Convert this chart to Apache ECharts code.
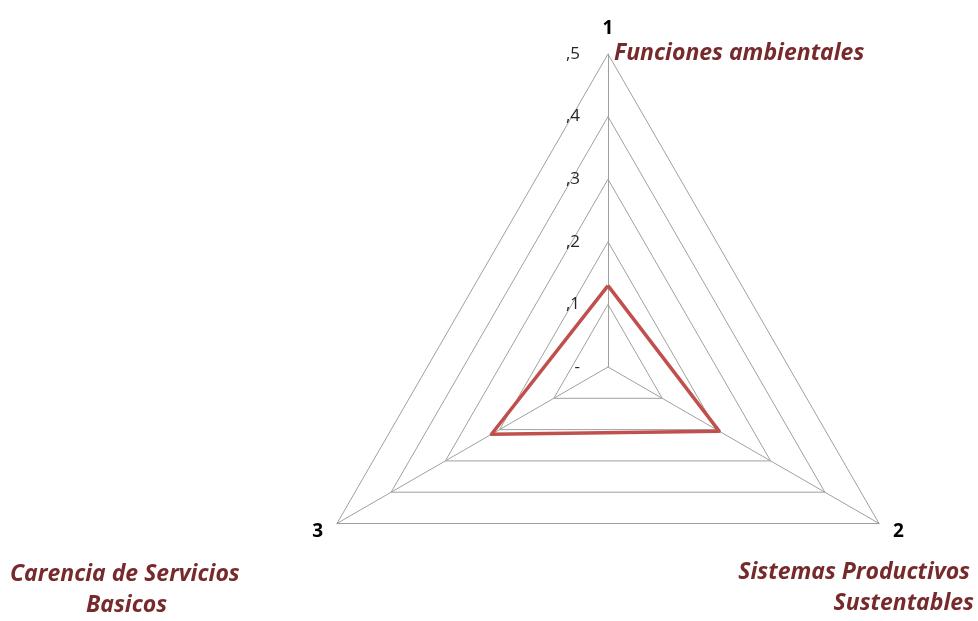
<!DOCTYPE html>
<html lang="es">
<head>
  <meta charset="UTF-8" />
  <title>Radar</title>
  <script src="https://cdn.jsdelivr.net/npm/echarts@6/dist/echarts.min.js"></script>
  <style>
    html, body { margin: 0; padding: 0; background: #fff; }
    #chart { width: 978px; height: 621px; }
  </style>
</head>
<body>
  <div id="chart"></div>
  <script>
    // datos
    const axes = ['1', '2', '3'];
    const values = [0.13, 0.205, 0.215];
    const tickLabels = ['-', ',1', ',2', ',3', ',4', ',5'];
    const axisMax = 0.5;

    const chart = echarts.init(document.getElementById('chart'));

    // ECharts pone los ejes en sentido antihorario; el original va en sentido horario
    const order = [0, 2, 1];
    const indicator = order.map((i, k) => {
      const ind = { name: axes[i], min: 0, max: axisMax };
      if (k === 0) {
        ind.axisLabel = {
          show: true,
          margin: 28,
          color: '#262626',
          fontSize: 17,
          fontFamily: 'Open Sans',
          padding: [6, 0, 0, 0],
          formatter: (v, idx) => tickLabels[idx]
        };
      }
      return ind;
    });

    const noteStyle = {
      font: 'italic bold 23px "Open Sans"',
      fill: '#772a2c'
    };

    chart.setOption({
      animation: false,
      radar: {
        center: [608, 367],
        radius: 313,
        shape: 'polygon',
        splitNumber: 5,
        indicator: indicator,
        axisName: {
          color: '#000',
          fontSize: 19,
          fontWeight: 'bold',
          fontFamily: 'Open Sans'
        },
        nameGap: 16,
        axisLine: { lineStyle: { color: '#a0a0a0', width: 1 } },
        splitLine: { lineStyle: { color: '#a0a0a0', width: 1 } },
        splitArea: { show: false },
        axisLabel: { show: false },
        axisTick: { show: false }
      },
      series: [{
        type: 'radar',
        symbol: 'none',
        lineStyle: { color: '#c0504d', width: 3.5 },
        data: [{ value: order.map(i => values[i]) }]
      }],
      graphic: [
        { type: 'text', left: 614, top: 42, style: Object.assign({ text: 'Funciones ambientales' }, noteStyle) },
        { type: 'text', right: 8, top: 561, style: Object.assign({ text: 'Sistemas Productivos', textAlign: 'right' }, noteStyle) },
        { type: 'text', right: 4, top: 592, style: Object.assign({ text: 'Sustentables', textAlign: 'right' }, noteStyle) },
        { type: 'text', left: 10, top: 563, style: Object.assign({ text: 'Carencia de Servicios' }, noteStyle) },
        { type: 'text', left: 86, top: 594, style: Object.assign({ text: 'Basicos' }, noteStyle) }
      ]
    });
  </script>
</body>
</html>
